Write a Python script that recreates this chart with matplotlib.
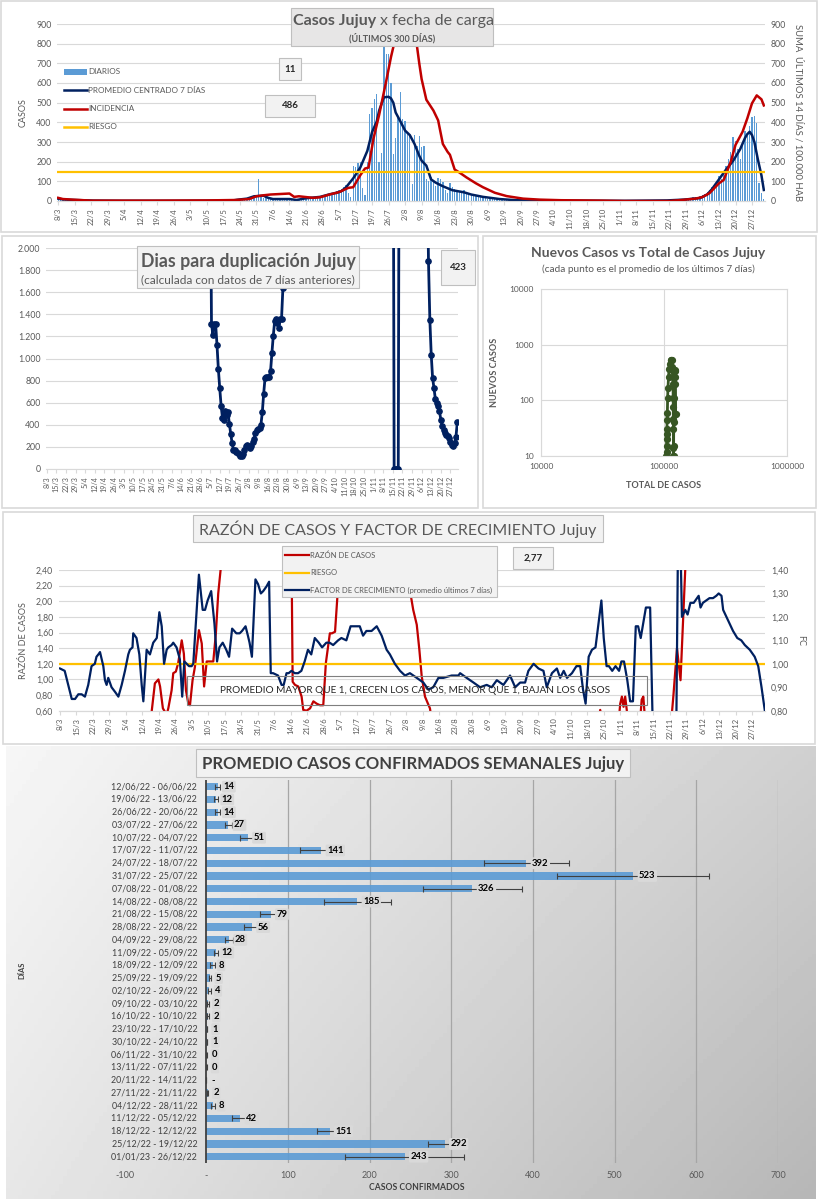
import matplotlib
matplotlib.use("Agg")
import matplotlib.pyplot as plt
import numpy as np
from matplotlib.lines import Line2D
from matplotlib.patches import Rectangle
from matplotlib.ticker import FuncFormatter

plt.rcParams.update({
    "font.family": ["Lato", "DejaVu Sans"],
    "font.size": 7,
    "axes.linewidth": 0.8,
})

W, H = 818, 1200
GREY_TXT = "#595959"
GRID = "#d9d9d9"
NAVY = "#002060"
RED = "#c00000"
YELLOW = "#ffc000"
BLUE = "#5b9bd5"
N_DAYS = 300

# ------------------------------------------------------------------ data
week_labels = ["8/3", "15/3", "22/3", "29/3", "5/4", "12/4", "19/4", "26/4", "3/5", "10/5",
               "17/5", "24/5", "31/5", "7/6", "14/6", "21/6", "28/6", "5/7", "12/7", "19/7",
               "26/7", "2/8", "9/8", "16/8", "23/8", "30/8", "6/9", "13/9", "20/9", "27/9",
               "4/10", "11/10", "18/10", "25/10", "1/11", "8/11", "15/11", "22/11", "29/11",
               "6/12", "13/12", "20/12", "27/12"]

# casos diarios (8/3 -> 2/1)
daily = [
    15, 12, 8, 10, 6, 5, 8, 4, 3, 5, 2, 3, 2, 1,
    1, 2, 0, 1, 3, 1, 0, 2, 1, 0, 1, 2, 0, 1,
    0, 1, 2, 0, 1, 0, 1, 2, 0, 1, 1, 0, 2, 1,
    0, 1, 2, 1, 0, 1, 2, 1, 0, 2, 1, 3, 1, 0,
    2, 1, 1, 3, 0, 2, 1, 3, 2, 1, 4, 2, 3, 2,
    3, 4, 2, 5, 3, 6, 4,
    5, 8, 12, 10, 18, 20, 22, 25,
    110,
    20, 15, 18, 12, 10, 8, 10, 12, 8, 10, 9, 12,
    10, 6, 4, 5, 8, 10, 12, 14, 16, 15, 18, 20, 22, 18,
    25, 30, 28, 35, 40, 45, 50,
    55, 60, 70, 80, 40, 20, 180, 175,
    195, 200, 65, 30, 200, 440,
    475, 520, 545, 200, 245, 800, 750,
    750, 600, 240, 320, 420, 555, 415,
    405, 350, 330, 85, 335, 280, 333,
    275, 280, 110, 100, 120, 95, 75,
    118, 110, 95, 55, 40, 93, 70,
    60, 50, 45, 40, 55, 35, 30,
    35, 25, 30, 20, 22, 18, 15,
    12, 15, 10, 12, 8, 10, 6, 8, 5, 6, 4, 5, 3, 4,
    2, 3, 1, 2, 1, 2, 1,
    1, 2, 0, 1, 1, 2, 0,
    1, 0, 1, 1, 0, 1, 0,
    1, 0, 0, 1, 0, 1, 0,
    0, 1, 0, 0, 1, 0, 0,
    1, 0, 0, 0, 1, 0, 0,
    0, 1, 0, 0, 0, 1, 0,
    0, 0, 1, 0, 0, 0, 1,
    0, 0, 0, 1, 0, 1, 2, 1,
    3, 5, 4, 6, 8, 10, 12, 10, 14, 18, 20, 22, 25,
    30, 35, 45, 55, 70, 80, 95,
    127, 110, 150, 180, 213, 250, 324,
    307, 264, 216, 290, 358, 330, 380,
    427, 432, 398, 93, 41, 11,
]

# promedio centrado 7 dias
avg_days = [0, 2, 5, 10, 15, 27, 50, 70, 74, 77, 80, 83, 87, 89, 91, 98, 101, 105, 111, 115,
            118, 120, 122, 125, 128, 131, 133, 135, 136, 138, 140, 141, 142, 143, 145, 147, 149,
            151, 153, 154, 156, 158, 160, 163, 167, 172, 175, 180, 187, 194, 210, 240, 258, 265,
            272, 275, 277, 280, 283, 286, 289, 291, 292, 293, 294, 295, 296.5, 298, 299]
avg_vals = [12, 8, 6, 4, 2, 1, 1, 2, 3, 8, 12, 24, 27, 16, 10, 10, 5, 14, 21, 34,
            42, 50, 70, 115, 170, 255, 350, 405, 460, 527, 530, 522, 500, 450, 405, 358, 335,
            290, 230, 205, 180, 110, 93, 75, 55, 44, 33, 21, 10, 4, 2, 1, 3, 7,
            15, 33, 60, 110, 160, 204, 264, 320, 340, 352, 335, 300, 210, 130, 56]

# incidencia (suma 14 dias / 100.000 hab)
inc_days = [0, 2, 6, 14, 40, 63, 75, 81, 84, 87, 90, 98, 100, 102, 108, 111, 115, 119, 123, 125,
            128, 130, 131.5, 133.6, 136, 139, 141, 143, 145, 147, 149, 151, 152, 153, 154, 156,
            159, 161, 163, 165, 166, 168, 170, 173, 177, 180, 185, 190, 197, 204, 213, 230, 240,
            259, 264, 270, 273, 276, 280, 282, 285, 287, 290, 292, 294, 296, 298, 299]
inc_vals = [16, 10, 7, 2, 2, 3, 5, 10, 24, 29, 33, 38, 21, 24, 16, 19, 33, 45, 67, 70,
            131, 165, 170, 317, 438, 610, 731, 834, 930, 1050, 1000, 880, 790, 700, 620, 515,
            460, 410, 290, 250, 235, 160, 145, 120, 90, 70, 42, 25, 12, 7, 4, 2, 0,
            0, 5, 12, 20, 40, 90, 107, 200, 285, 352, 420, 497, 537, 517, 486]
riesgo_inc = 150

# dias para duplicacion
dup_jul_days = list(range(119, 174))
dup_jul = [3200, 1315, 1216, 1315, 1315, 1125, 905, 733, 573, 462, 447, 522, 492, 513, 410,
           320, 235, 175, 169, 151, 145, 139, 121, 115, 139, 175, 205, 220, 205, 190, 205,
           241, 272, 326, 350, 362, 371, 401, 513, 682, 824, 833, 833, 833, 884, 1050, 1207,
           1337, 1358, 1321, 1276, 1358, 1358, 1638, 2600]
dup_nov_days = list(range(252, 258))
dup_nov = [5000, 0, 0, 0, 0, 5000]
dup_dec_days = list(range(277, 300))
dup_dec = [3000, 1880, 1352, 1035, 824, 733, 634, 597, 573, 522, 447, 386, 356, 326, 311,
           296, 281, 241, 220, 211, 235, 290, 423]

# nuevos casos vs total
scatter_total = [104500, 104800, 105000, 105200, 105400, 105700, 106000, 106500, 107000, 107800,
                 108800, 110000, 111500, 113000, 114500, 115800, 116800, 117500, 118000, 118400,
                 118700, 118900, 119100, 119200, 119300, 119400, 119500, 119700, 120000, 120500,
                 121200, 122000, 122800, 123500, 124000, 124300]
scatter_new = [10, 12, 15, 20, 25, 30, 45, 60, 110, 170,
               260, 360, 450, 530, 540, 520, 400, 330, 260, 200,
               110, 75, 47, 30, 14, 10, 10, 15, 40, 110,
               200, 264, 330, 350, 200, 56]

# factor de crecimiento (eje derecho)
fc_days = [0, 2, 3.5, 5, 6.4, 7.8, 9.2, 10.6, 12, 13.4, 14.8, 15.5, 16.3, 17, 18.4, 19.1, 19.8,
           20.5, 21.9, 23.4, 24.8, 26.2, 27.6, 29, 29.7, 30.8, 31.1, 32.5, 33.7, 34.7, 35.4, 36.8,
           38.2, 39.6, 41.1, 42.2, 43.2, 44.2, 45.3, 46, 47.4, 48.1, 49.5, 50.9, 51.9, 52.8, 53.8,
           54.8, 55.9, 56.6, 59, 60.6, 61.6, 62.7, 64.2, 65.6, 66.7, 67.7, 69.1, 70.6, 71.8, 73.1,
           74.9, 76.3, 77.3, 78.8, 79.8, 80.5, 81.5, 83, 84.1, 85.3, 86.3, 87.7, 88.8, 89.5, 90.5,
           92.6, 94.1, 95, 96.2, 97.1, 98.3, 99.7, 101.1, 102.5, 103.9, 105.3, 106.7, 108.2, 109.9,
           111.3, 113.1, 114.5, 116, 118.1, 119.5, 121.6, 123.4, 125.1, 127.3, 128.7, 130.1, 132.3,
           134.5, 136.6, 138.7, 140.1, 142.2, 144.4, 146.5, 148.6, 151.5, 154.3, 156.4, 158.5,
           160.7, 162.8, 166.3, 169.2, 169.9, 172.7, 175.6, 178.4, 181.2, 183.3, 185.5, 188.3,
           191.1, 193.3, 195.4, 197.5, 198.9, 201.1, 203.2, 205.3, 206.7, 208.9, 211, 212.4, 213.9,
           215.3, 217.4, 219.3, 220.9, 222.1, 223.2, 224.5, 225.9, 227.4, 228.8, 229.9, 230.9,
           232.1, 233.1, 234.5, 235.9, 237.4, 238.4, 239.5, 240.9, 242.1, 243.3, 244.5, 245.5,
           246.6, 248.8, 250.6, 251.6, 252.5, 261.5, 262.5, 263.3, 264.1, 265.5, 266.5, 267.7,
           269.1, 270.5, 271.2, 272, 273, 274.4, 275.8, 277.3, 278.7, 279.7, 280.9, 281.6, 283,
           284.4, 285.8, 287.6, 289.3, 290.8, 292.9, 295, 296.5, 297.9, 299.3]
fc_vals = [0.98, 0.97, 0.91, 0.85, 0.85, 0.87, 0.87, 0.86, 0.91, 0.99, 1.00, 1.03, 1.04, 1.05,
           0.99, 0.93, 0.91, 0.94, 0.90, 0.88, 0.86, 0.91, 0.97, 1.04, 1.06, 1.07, 1.13, 1.11,
           1.04, 0.91, 0.84, 1.06, 1.04, 1.09, 1.11, 1.22, 1.16, 1.00, 1.06, 1.07, 1.08, 1.09,
           1.07, 1.02, 0.86, 1.01, 1.00, 0.99, 0.99, 1.00, 1.38, 1.23, 1.23, 1.27, 1.31, 1.17,
           1.01, 1.07, 1.09, 1.06, 1.03, 1.15, 1.13, 1.13, 1.14, 1.16, 1.12, 1.09, 1.03, 1.36,
           1.34, 1.30, 1.31, 1.33, 1.35, 0.96, 0.96, 0.95, 0.91, 0.91, 0.96, 0.96, 0.97, 0.96,
           0.96, 0.97, 1.01, 1.06, 1.04, 1.11, 1.09, 1.07, 1.09, 1.09, 1.08, 1.10, 1.11, 1.10,
           1.16, 1.16, 1.16, 1.12, 1.14, 1.14, 1.16, 1.12, 1.06, 1.04, 1.00, 0.97, 0.95, 0.96,
           0.94, 0.92, 0.89, 0.90, 0.94, 0.94, 0.95, 0.95, 0.96, 0.94, 0.92, 0.90, 0.91, 0.90,
           0.93, 0.91, 0.95, 0.90, 0.92, 0.92, 0.97, 1.00, 0.98, 0.97, 0.90, 0.96, 0.98, 0.94,
           0.97, 0.94, 0.96, 0.99, 0.99, 0.89, 0.83, 1.03, 1.06, 1.07, 1.18, 1.27, 1.11, 0.99,
           0.99, 0.97, 0.99, 0.97, 1.01, 1.01, 0.93, 0.84, 0.84, 1.16, 1.16, 1.11, 1.24, 1.24,
           0.78, 0.50, 0.50, 1.60, 1.60, 1.20, 1.23, 1.21, 1.26, 1.26, 1.28, 1.29, 1.24, 1.26,
           1.27, 1.28, 1.28, 1.29, 1.30, 1.29, 1.23, 1.20, 1.17, 1.14, 1.11, 1.10, 1.08, 1.06,
           1.03, 0.99, 0.90, 0.80]

# razon de casos (eje izquierdo)
rz_days = [0, 38.6, 40.3, 41.8, 42.5, 43.7, 45.3, 46, 47.4, 48.1, 49.2, 50.2, 51.7, 52.6, 53.5,
           54.5, 55.2, 56.3, 57.3, 59, 60.2, 61.2, 62.3, 63.7, 65.1, 66.2, 67.2, 68.2, 69.5, 98.2,
           98.8, 99.8, 101.2, 102.6, 103.3, 104.7, 106.2, 107.6, 109, 110.4, 111.8, 112.9, 114.6,
           115.5, 116.8, 117.8, 118.6, 119.3, 148, 148.6, 150, 151.5, 152.6, 153.6, 155, 157.1,
           158, 228.5, 229.4, 230.3, 237.2, 237.9, 238.6, 239.3, 240, 240.9, 246.3, 247, 247.7,
           248.4, 259.5, 260.5, 262, 262.8, 263.5, 265.5, 266, 298, 299]
rz_vals = [0.4, 0.5, 0.95, 1.00, 0.91, 0.63, 0.55, 0.63, 0.86, 1.08, 1.10, 1.21, 1.50, 1.33, 0.86,
           0.69, 0.67, 0.99, 1.16, 1.63, 1.46, 0.91, 1.23, 1.23, 1.23, 1.59, 2.10, 2.40, 3.0, 3.0,
           0.97, 0.93, 0.91, 0.78, 0.61, 0.60, 0.63, 0.72, 0.69, 0.67, 0.67, 1.21, 1.59,
           1.59, 1.61, 2.06, 2.40, 3.0, 3.0, 2.14, 1.89, 1.70, 1.38, 1.04, 0.78, 0.63,
           0.45, 0.45, 0.61, 0.45, 0.45, 0.69, 0.78, 0.65, 0.78, 0.55, 0.45, 0.74, 0.78,
           0.5, 0.45, 0.8, 1.40, 1.18, 0.99, 2.40, 3.0, 3.0, 2.77]
riesgo_rz = 1.2

# promedio semanal
week_ranges = ["12/06/22 - 06/06/22", "19/06/22 - 13/06/22", "26/06/22 - 20/06/22",
               "03/07/22 - 27/06/22", "10/07/22 - 04/07/22", "17/07/22 - 11/07/22",
               "24/07/22 - 18/07/22", "31/07/22 - 25/07/22", "07/08/22 - 01/08/22",
               "14/08/22 - 08/08/22", "21/08/22 - 15/08/22", "28/08/22 - 22/08/22",
               "04/09/22 - 29/08/22", "11/09/22 - 05/09/22", "18/09/22 - 12/09/22",
               "25/09/22 - 19/09/22", "02/10/22 - 26/09/22", "09/10/22 - 03/10/22",
               "16/10/22 - 10/10/22", "23/10/22 - 17/10/22", "30/10/22 - 24/10/22",
               "06/11/22 - 31/10/22", "13/11/22 - 07/11/22", "20/11/22 - 14/11/22",
               "27/11/22 - 21/11/22", "04/12/22 - 28/11/22", "11/12/22 - 05/12/22",
               "18/12/22 - 12/12/22", "25/12/22 - 19/12/22", "01/01/23 - 26/12/22"]
week_avg = [14, 12, 14, 27, 51, 141, 392, 523, 326, 185, 79, 56, 28, 12, 8, 5, 4, 2, 2, 1, 1,
            0.3, 0.3, 0, 2, 8, 42, 151, 292, 243]
week_err = [3.5, 3, 3.5, 4, 9.5, 26, 52, 93, 61, 41, 13, 9.5, 5, 3, 3, 1.5, 1.5, 1, 1, 0.5, 0.5,
            0.3, 0.3, 0, 0.8, 2.5, 10.6, 15.5, 21, 73]


# ------------------------------------------------------------------ helpers
def rect(l, t, w, h):
    return [l / W, 1 - (t + h) / H, w / W, h / H]


def fig_box(l, t, w, h, fc="#f2f2f2", ec="#bfbfbf", lw=0.8, z=5):
    fig.patches.append(Rectangle((l / W, 1 - (t + h) / H), w / W, h / H,
                                 transform=fig.transFigure, facecolor=fc, edgecolor=ec,
                                 lw=lw, zorder=z))


def fig_text(x, y, s, **kw):
    kw.setdefault("zorder", 6)
    return fig.text(x / W, 1 - y / H, s, **kw)


def fig_line(x0, x1, y, color, lw):
    fig.add_artist(Line2D([x0 / W, x1 / W], [1 - y / H, 1 - y / H], color=color, lw=lw,
                          transform=fig.transFigure, zorder=6))


def date_axis(ax, fs):
    ax.set_xlim(-0.5, N_DAYS - 0.5)
    ax.set_xticks(np.arange(0, N_DAYS, 7))
    ax.set_xticklabels(week_labels, rotation=90, fontsize=fs, color=GREY_TXT)
    ax.tick_params(axis="x", length=3, color=GRID, pad=2)


def clean(ax, grid=True):
    for s in ["top", "left", "right"]:
        ax.spines[s].set_visible(False)
    ax.spines["bottom"].set_color(GRID)
    if grid:
        ax.grid(axis="y", color=GRID, lw=0.8)
    ax.set_axisbelow(True)
    ax.tick_params(axis="y", length=0, labelsize=6.3, labelcolor=GREY_TXT, pad=4)


fig = plt.figure(figsize=(W / 100, H / 100), dpi=100)

# panel frames
for (l, t, w, h) in [(1, 1, 816, 231), (2, 236, 476, 272), (483, 236, 333, 272), (3, 512, 812, 232)]:
    fig_box(l, t, w, h, fc="white", ec=GRID, lw=1.2, z=-2)

# ------------------------------------------------------------------ panel 1
ax1 = fig.add_axes(rect(57, 24, 708, 177))
days = np.arange(len(daily))
ax1.bar(days, daily, width=0.55, color=BLUE, zorder=2)
ax1.plot(avg_days, avg_vals, color=NAVY, lw=1.8, zorder=3)
ax1.set_ylim(0, 900)
ax1.set_yticks(range(0, 1000, 100))
clean(ax1)
date_axis(ax1, 5.5)
ax1.set_ylabel("CASOS", fontsize=6.5, color=GREY_TXT, labelpad=6)

ax1r = ax1.twinx()
ax1r.plot(inc_days, inc_vals, color=RED, lw=1.8, zorder=3)
ax1r.axhline(riesgo_inc, color=YELLOW, lw=1.6, zorder=4)
ax1r.set_ylim(0, 900)
ax1r.set_yticks(range(0, 1000, 100))
clean(ax1r, grid=False)
ax1r.set_ylabel("SUMA  ÚLTIMOS 14 DÍAS / 100.000 HAB", rotation=270, fontsize=6.8,
                color=GREY_TXT, labelpad=12)

fig_box(291, 8, 202, 38, fc="#e7e6e6", ec="#bfbfbf")
fig_text(376, 21, "Casos Jujuy", ha="right", va="center", fontsize=11.5, fontweight="bold",
         color=GREY_TXT)
fig_text(380, 21, "x fecha de carga", ha="left", va="center", fontsize=11.5, color=GREY_TXT)
fig_text(392, 38, "(ÚLTIMOS 300 DÍAS)", ha="center", va="center", fontsize=6.5,
         fontweight="bold", color=GREY_TXT)

leg1 = [("DIARIOS", None), ("PROMEDIO CENTRADO 7 DÍAS", NAVY), ("INCIDENCIA", RED), ("RIESGO", YELLOW)]
for k, (lab, col) in enumerate(leg1):
    yy = 72 + k * 18.3
    if col is None:
        fig.patches.append(Rectangle((64 / W, 1 - (yy + 3) / H), 23 / W, 6 / H,
                                     transform=fig.transFigure, facecolor=BLUE, zorder=6))
    else:
        fig_line(64, 87, yy, col, 1.8)
    fig_text(88, yy, lab, ha="left", va="center", fontsize=5.9, color=GREY_TXT)

fig_box(279, 58, 22, 22)
fig_text(290, 69, f"{daily[-1]}", ha="center", va="center", fontsize=7, fontweight="bold",
         color="#262626")
fig_box(265, 95, 50, 22)
fig_text(290, 106, f"{inc_vals[-1]}", ha="center", va="center", fontsize=7, fontweight="bold",
         color="#262626")

# ------------------------------------------------------------------ panel 2
ax2 = fig.add_axes(rect(46, 248, 412, 221))
for d, v in [(dup_jul_days, dup_jul), (dup_nov_days, dup_nov), (dup_dec_days, dup_dec)]:
    ax2.plot(d, v, color=NAVY, lw=2, marker="o", ms=3.8, zorder=3)
ax2.set_ylim(0, 2000)
ax2.set_yticks(range(0, 2001, 200))
ax2.yaxis.set_major_formatter(FuncFormatter(lambda v, p: f"{v:,.0f}".replace(",", ".")))
clean(ax2)
date_axis(ax2, 5.2)

fig_box(137, 246, 222, 42, fc="#f2f2f2", ec="#bfbfbf")
fig_text(248, 262, "Dias para duplicación Jujuy", ha="center", va="center", fontsize=12.8,
         fontweight="bold", color=GREY_TXT)
fig_text(248, 280, "(calculada con datos de 7 días anteriores)", ha="center", va="center",
         fontsize=8.6, color=GREY_TXT)
fig_box(441, 250, 34, 35)
fig_text(458, 267, f"{dup_dec[-1]}", ha="center", va="center", fontsize=7, fontweight="bold",
         color="#262626")

# ------------------------------------------------------------------ panel 3
ax3 = fig.add_axes(rect(541, 289, 246, 167))
ax3.plot(scatter_total, scatter_new, color="#375623", lw=2, marker="o", ms=4.2)
ax3.set_xscale("log")
ax3.set_yscale("log")
ax3.set_xlim(1e4, 1e6)
ax3.set_ylim(10, 1e4)
ax3.minorticks_off()
ax3.set_xticks([1e4, 1e5, 1e6])
ax3.set_yticks([10, 100, 1000, 10000])
ax3.xaxis.set_major_formatter(FuncFormatter(lambda v, p: f"{v:.0f}"))
ax3.yaxis.set_major_formatter(FuncFormatter(lambda v, p: f"{v:.0f}"))
ax3.grid(color=GRID, lw=0.8)
ax3.set_axisbelow(True)
for s in ax3.spines.values():
    s.set_color(GRID)
ax3.tick_params(length=0, labelsize=6, labelcolor=GREY_TXT, pad=5)
ax3.set_xlabel("TOTAL DE CASOS", fontsize=6.5, fontweight="bold", color=GREY_TXT, labelpad=8)
ax3.set_ylabel("NUEVOS CASOS", fontsize=6.5, fontweight="bold", color=GREY_TXT, labelpad=8)
fig_text(648, 253, "Nuevos Casos vs Total de Casos Jujuy", ha="center", va="center",
         fontsize=10, fontweight="bold", color=GREY_TXT)
fig_text(648, 269, "(cada punto es el promedio de los últimos 7 días)", ha="center",
         va="center", fontsize=7.2, color=GREY_TXT)

# ------------------------------------------------------------------ panel 4
ax4 = fig.add_axes(rect(58.8, 570, 706.5, 140.7))
ax4.plot(rz_days, rz_vals, color=RED, lw=1.6, zorder=3)
ax4.axhline(riesgo_rz, color=YELLOW, lw=1.6, zorder=4)
ax4.set_ylim(0.6, 2.4)
ax4.set_yticks(np.round(np.arange(0.6, 2.41, 0.2), 2))
ax4.yaxis.set_major_formatter(FuncFormatter(lambda v, p: f"{v:.2f}".replace(".", ",")))
clean(ax4)
date_axis(ax4, 5.5)
ax4.set_ylabel("RAZÓN DE CASOS", fontsize=6.5, color=GREY_TXT, labelpad=6)

ax4r = ax4.twinx()
ax4r.plot(fc_days, fc_vals, color=NAVY, lw=1.6, zorder=3)
ax4r.set_ylim(0.8, 1.4)
ax4r.set_yticks(np.round(np.arange(0.8, 1.41, 0.1), 2))
ax4r.yaxis.set_major_formatter(FuncFormatter(lambda v, p: f"{v:.2f}".replace(".", ",")))
clean(ax4r, grid=False)
ax4r.set_ylabel("FC", rotation=270, fontsize=6.5, color=GREY_TXT, labelpad=12)

fig_box(193, 515, 410, 27, fc="#f2f2f2", ec="#bfbfbf")
fig_text(398, 529, "RAZÓN DE CASOS Y FACTOR DE CRECIMIENTO Jujuy", ha="center", va="center",
         fontsize=11.5, color=GREY_TXT)
fig_box(282, 546, 215, 51, fc="#f2f2f2", ec="#bfbfbf")
leg4 = [("RAZÓN DE CASOS", RED), ("RIESGO", YELLOW),
        ("FACTOR DE CRECIMIENTO (promedio últimos 7 días)", NAVY)]
for k, (lab, col) in enumerate(leg4):
    yy = 555 + k * 17.5
    fig_line(285, 309, yy, col, 1.6)
    fig_text(310, yy, lab, ha="left", va="center", fontsize=5.5, color=GREY_TXT)
fig_box(513, 547, 40, 22)
fig_text(533, 558, f"{rz_vals[-1]:.2f}".replace(".", ","), ha="center", va="center",
         fontsize=7, fontweight="bold", color="#262626")
fig_box(187, 676, 460, 29, fc="none", ec="#7f7f7f", lw=0.8)
fig_text(415, 690.5, "PROMEDIO MAYOR QUE 1, CRECEN LOS CASOS, MENOR QUE 1, BAJAN LOS CASOS",
         ha="center", va="center", fontsize=7.2, color="#262626")

# ------------------------------------------------------------------ panel 5
bg = fig.add_axes(rect(6, 746, 810, 453))
gx, gy = np.meshgrid(np.linspace(0, 1, 200), np.linspace(0, 1, 120))
grad = 0.965 - 0.15 * gx - 0.06 * gy - 0.04 * gx * gy
bg.imshow(grad, cmap="gray", vmin=0, vmax=1, aspect="auto", extent=(0, 1, 1, 0))
bg.set_axis_off()
bg.set_zorder(-1)

ax5 = fig.add_axes(rect(124.5, 780.3, 653.5, 382.8))
ax5.set_facecolor("none")
ypos = np.arange(len(week_avg))
ax5.barh(ypos, week_avg, height=0.57, color=BLUE, alpha=0.9, zorder=2,
         xerr=week_err, error_kw=dict(ecolor="#404040", elinewidth=0.8, capsize=2.2,
                                      capthick=0.8, zorder=3))
ax5.set_xlim(-100, 700)
ax5.set_ylim(len(week_avg) - 0.5, -0.5)
xt = list(range(-100, 701, 100))
ax5.set_xticks(xt)
ax5.xaxis.set_major_formatter(FuncFormatter(lambda v, p: "-" if v == 0 else f"{v:.0f}"))
for t in xt[2:]:
    ax5.axvline(t, color="#a6a6a6", lw=0.9, zorder=1)
ax5.axvline(0, color="#404040", lw=1.3, zorder=4)
for s in ax5.spines.values():
    s.set_visible(False)
ax5.set_yticks([])
ax5.tick_params(axis="x", length=0, labelsize=6.5, labelcolor=GREY_TXT, pad=6)
for i, (lab, v) in enumerate(zip(week_ranges, week_avg)):
    ax5.text(-11, i, lab, ha="right", va="center", fontsize=6.4, color="#404040")
    txt = "-" if v == 0 else f"{v:.0f}"
    ax5.text(v + 7, i, txt, ha="left", va="center", fontsize=6.8, fontweight="bold",
             color="black", zorder=5,
             bbox=None if v == 0 else dict(boxstyle="round,pad=0.15", fc="#d9d9d9", ec="none"))
fig_text(417, 1188, "CASOS CONFIRMADOS", ha="center", va="center", fontsize=6.2,
         fontweight="bold", color="#404040")
fig_text(22, 970, "DÍAS", ha="center", va="center", fontsize=5.5, fontweight="bold",
         color="#404040", rotation=90)
fig_box(196, 749, 434, 28, fc="#f2f2f2", ec="#bfbfbf")
fig_text(413, 763.5, "PROMEDIO CASOS CONFIRMADOS SEMANALES Jujuy", ha="center", va="center",
         fontsize=12, fontweight="bold", color="#404040")

fig.savefig("out.png", dpi=100)
